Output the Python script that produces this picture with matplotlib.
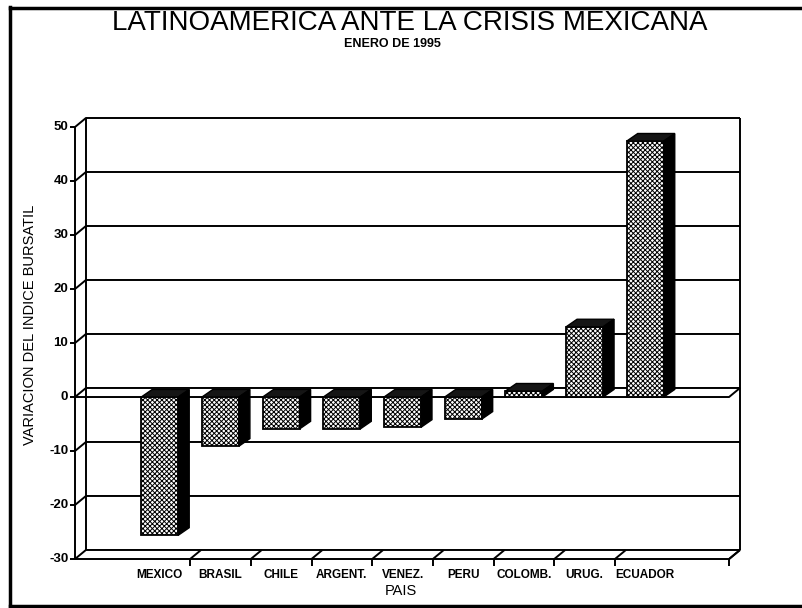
import matplotlib
matplotlib.use("Agg")
import matplotlib.pyplot as plt
from matplotlib.patches import Polygon, Rectangle
from matplotlib.lines import Line2D
from matplotlib import font_manager

# data
paises = ["MEXICO", "BRASIL", "CHILE", "ARGENT.", "VENEZ.", "PERU", "COLOMB.", "URUG.", "ECUADOR"]
variacion = [-25.6, -9.1, -5.9, -5.9, -5.6, -4.1, 1.1, 13.0, 47.4]
y_ticks = [-30, -20, -10, 0, 10, 20, 30, 40, 50]

installed = {f.name for f in font_manager.fontManager.ttflist}
font = "Liberation Sans"
narrow = "Liberation Sans Narrow" if "Liberation Sans Narrow" in installed else font
plt.rcParams["font.family"] = font
plt.rcParams["hatch.linewidth"] = 0.7

W, H = 802, 608
fig = plt.figure(figsize=(W / 100, H / 100), dpi=100)
fig.patch.set_facecolor("white")

ax = fig.add_axes([75 / W, 1 - 559 / H, (740 - 75) / W, (559 - 118) / H])
x0, x1 = -1.397, 9.38          # front left / right of floor
dx, dy = 0.18, 1.67            # depth of the walls
ymin, ymax = y_ticks[0], y_ticks[-1]
ax.set_xlim(x0, x1 + dx)
ax.set_ylim(ymin, ymax + dy)
ax.axis("off")

kw = dict(color="black", lw=1.4, clip_on=False, solid_capstyle="butt")

# walls
ax.plot([x0, x0], [ymin, ymax], **kw)
ax.plot([x0 + dx, x0 + dx], [ymin + dy, ymax + dy], **kw)
ax.plot([x1 + dx, x1 + dx], [ymin + dy, ymax + dy], **kw)
for t in y_ticks:
    ax.plot([x0, x0 + dx, x1 + dx], [t + 0, t + dy, t + dy], **kw)
    ax.plot([x0 - 0.085, x0], [t, t], **kw)
    ax.text(x0 - 0.11, t, str(t), ha="right", va="center", fontsize=9.5,
            fontweight="bold", family=narrow)
for t in (0, ymin):
    ax.plot([x0, x1, x1 + dx], [t, t, t + dy], **kw)

# floor divisions and category ticks
for b in [i + 0.5 for i in range(len(paises) - 1)] + [x1]:
    ax.plot([b, b + dx], [ymin, ymin + dy], **kw)
    ax.plot([b, b], [ymin, ymin - 1.3], **kw)

for i, p in enumerate(paises):
    ax.text(i, ymin - 3.0, p, ha="center", va="center", fontsize=8.5,
            fontweight="bold", family=narrow)

# 3d bars
w, bdx, bdy = 0.61, 0.18, 1.4
for i, v in enumerate(variacion):
    top = max(v, 0)
    ax.add_patch(Rectangle((i - w / 2, min(v, 0)), w, abs(v), facecolor="white",
                           edgecolor="black", hatch="xxxxxxx", lw=1.3, zorder=3))
    ax.add_patch(Polygon([(i - w / 2, top), (i - w / 2 + bdx, top + bdy),
                          (i + w / 2 + bdx, top + bdy), (i + w / 2, top)],
                         closed=True, facecolor="#151515", edgecolor="black", lw=1.0, zorder=3))
    ax.add_patch(Polygon([(i + w / 2, 0), (i + w / 2 + bdx, bdy),
                          (i + w / 2 + bdx, v + bdy), (i + w / 2, v)],
                         closed=True, facecolor="black", edgecolor="black", lw=1.0, zorder=3))

# titles
fig.text(410 / W, 1 - 23 / H, "LATINOAMERICA ANTE LA CRISIS MEXICANA", ha="center",
         va="center", fontsize=20)
fig.text(392 / W, 1 - 44 / H, "ENERO DE 1995", ha="center", va="center", fontsize=9,
         fontweight="bold", family=narrow)
fig.text(30 / W, 1 - 325 / H, "VARIACION DEL INDICE BURSATIL", rotation=90,
         ha="center", va="center", fontsize=10.5)
fig.text(401 / W, 1 - 591 / H, "PAIS", ha="center", va="center", fontsize=10.5)

# page frame
for xs, ys in [([10, 10], [7, 608]), ([10, 802], [8, 8]), ([10, 802], [606, 606])]:
    fig.add_artist(Line2D([x / W for x in xs], [1 - y / H for y in ys],
                          transform=fig.transFigure, color="black", lw=2.5))

fig.savefig("out.png", dpi=100)
